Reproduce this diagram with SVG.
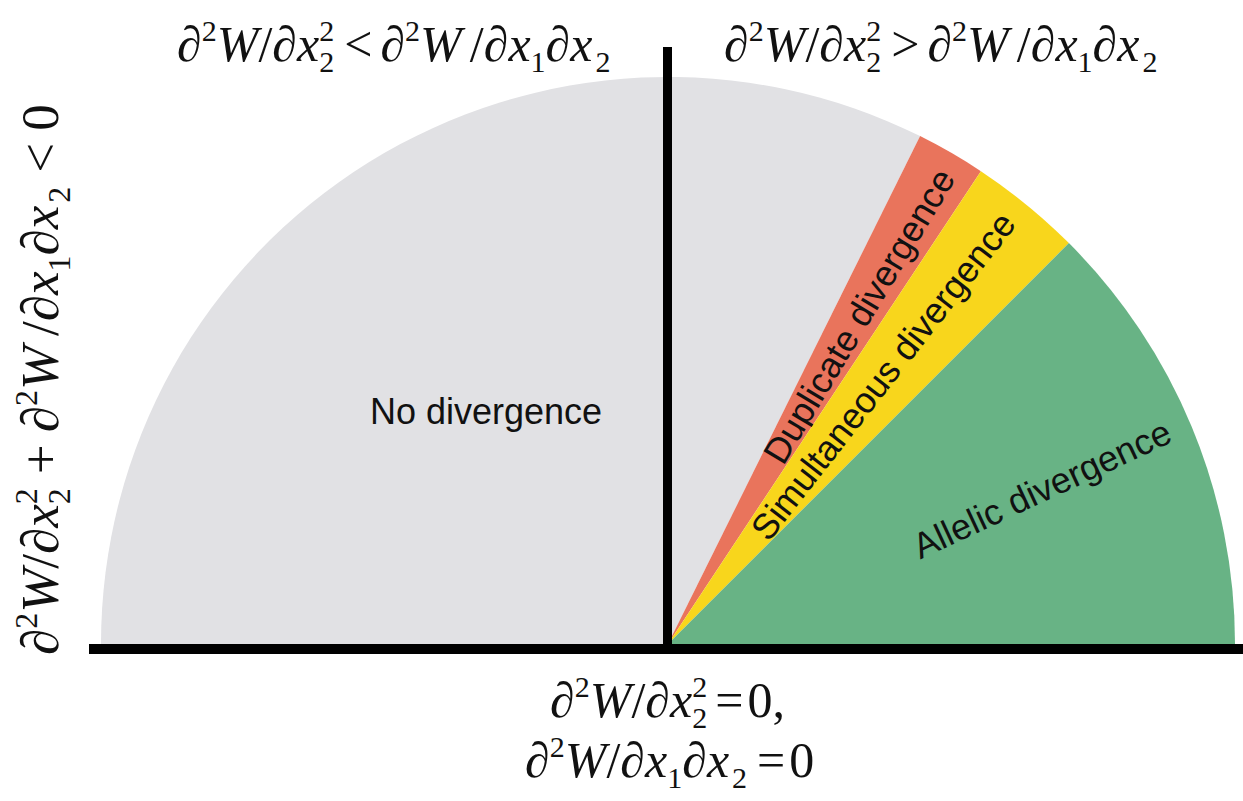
<svg xmlns="http://www.w3.org/2000/svg" width="1243" height="801" viewBox="0 0 1243 801">
<style>
.m { font-family: "Liberation Serif", "Times New Roman", serif; font-size: 50px; fill: #111; }
.big { font-size: 53px; }
.i { font-style: italic; }
.s { font-size: 30px; }
.s2 { font-size: 32px; }
.lab { font-family: "Liberation Sans", Arial, sans-serif; font-size: 36px; fill: #111; text-anchor: middle; dominant-baseline: central; }
</style>
<rect width="1243" height="801" fill="#ffffff"/>
<g id="regions">
  <g id="no-divergence">
    <path d="M668,644 L920.1,136.1 A567,567 0 0 0 101,644 Z" fill="#e1e1e4"/>
    <text class="lab" x="486" y="411">No divergence</text>
  </g>
  <g id="duplicate-divergence">
    <path d="M668,644 L980.9,171.2 A567,567 0 0 0 920.1,136.1 Z" fill="#e9745c"/>
    <text class="lab" transform="translate(859,316) rotate(-59)">Duplicate divergence</text>
  </g>
  <g id="simultaneous-divergence">
    <path d="M668,644 L1068.9,243.1 A567,567 0 0 0 980.9,171.2 Z" fill="#f8d61c"/>
    <text class="lab" transform="translate(883,376) rotate(-52)">Simultaneous divergence</text>
  </g>
  <g id="allelic-divergence">
    <path d="M668,644 L1235,644 A567,567 0 0 0 1068.9,243.1 Z" fill="#68b385"/>
    <text class="lab" transform="translate(1042,489) rotate(-25)">Allelic divergence</text>
  </g>
</g>
<g id="axes">
  <rect x="89" y="644" width="1154" height="10" fill="#000"/>
  <rect x="663" y="47" width="9" height="607" fill="#000"/>
</g>
<g id="label-top-left">
  <text class="m" x="177" y="61">∂<tspan class="s" dy="-20">2</tspan><tspan class="i" dy="20">W</tspan>/∂<tspan class="i">x</tspan><tspan class="s" dy="11">2</tspan><tspan class="s" dx="-15" dy="-31">2</tspan><tspan dx="10" dy="20">&lt;</tspan><tspan dx="8">∂</tspan><tspan class="s" dy="-20">2</tspan><tspan class="i" dy="20">W</tspan><tspan dx="8">/∂</tspan><tspan class="i">x</tspan><tspan class="s" dy="11">1</tspan><tspan dy="-11">∂</tspan><tspan class="i">x</tspan><tspan class="s" dx="3" dy="11">2</tspan></text>
</g>
<g id="label-top-right">
  <text class="m" x="724" y="61">∂<tspan class="s" dy="-20">2</tspan><tspan class="i" dy="20">W</tspan>/∂<tspan class="i">x</tspan><tspan class="s" dy="11">2</tspan><tspan class="s" dx="-15" dy="-31">2</tspan><tspan dx="10" dy="20">&gt;</tspan><tspan dx="8">∂</tspan><tspan class="s" dy="-20">2</tspan><tspan class="i" dy="20">W</tspan><tspan dx="8">/∂</tspan><tspan class="i">x</tspan><tspan class="s" dy="11">1</tspan><tspan dy="-11">∂</tspan><tspan class="i">x</tspan><tspan class="s" dx="3" dy="11">2</tspan></text>
</g>
<g id="label-left">
  <text class="m big" transform="translate(58,655) rotate(-90)">∂<tspan class="s2" dy="-21">2</tspan><tspan class="i" dy="21">W</tspan>/∂<tspan class="i">x</tspan><tspan class="s2" dy="12">2</tspan><tspan class="s2" dx="-16" dy="-33">2</tspan><tspan dx="14" dy="21">+</tspan><tspan dx="12">∂</tspan><tspan class="s2" dy="-21">2</tspan><tspan class="i" dy="21">W</tspan><tspan dx="10">/∂</tspan><tspan class="i">x</tspan><tspan class="s2" dy="12">1</tspan><tspan dy="-12">∂</tspan><tspan class="i">x</tspan><tspan class="s2" dx="3" dy="12">2</tspan><tspan dx="14" dy="-12">&lt;</tspan><tspan dx="12">0</tspan></text>
</g>
<g id="label-bottom">
  <text class="m" x="550" y="717">∂<tspan class="s" dy="-20">2</tspan><tspan class="i" dy="20">W</tspan>/∂<tspan class="i">x</tspan><tspan class="s" dy="11">2</tspan><tspan class="s" dx="-15" dy="-31">2</tspan><tspan dx="8" dy="20">=</tspan><tspan dx="4">0,</tspan></text>
  <text class="m" x="525" y="777">∂<tspan class="s" dy="-20">2</tspan><tspan class="i" dy="20">W</tspan>/∂<tspan class="i">x</tspan><tspan class="s" dy="11">1</tspan><tspan dy="-11">∂</tspan><tspan class="i">x</tspan><tspan class="s" dx="3" dy="11">2</tspan><tspan dx="10" dy="-11">=</tspan><tspan dx="4">0</tspan></text>
</g>
</svg>
